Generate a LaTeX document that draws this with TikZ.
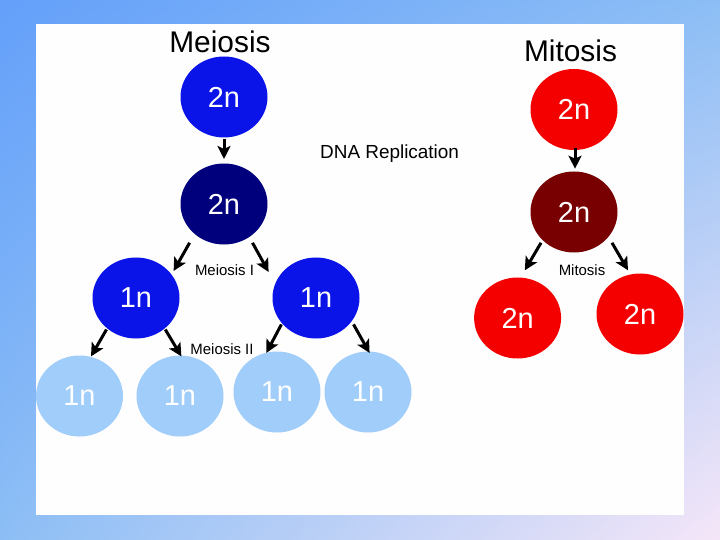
\documentclass[tikz,border=0pt]{standalone}
\usepackage{fontspec}
\setmainfont{Liberation Sans}
\usetikzlibrary{shapes.geometric,arrows.meta,shadings}
\definecolor{bgA}{RGB}{100,160,250}
\definecolor{bgB}{RGB}{140,190,245}
\definecolor{bgC}{RGB}{245,230,248}
\definecolor{cblue}{RGB}{10,20,232}
\definecolor{cnavy}{RGB}{0,0,125}
\definecolor{clight}{RGB}{160,205,250}
\definecolor{cred}{RGB}{245,0,0}
\definecolor{cmaroon}{RGB}{120,0,0}
\tikzset{
  cell/.style={ellipse, minimum width=87bp, minimum height=81bp, inner sep=0pt,
    text=white, font=\fontsize{29}{29}\selectfont},
  arr/.style={line width=3bp, -{Stealth[length=13bp,width=13bp,inset=3bp]}},
  title/.style={font=\fontsize{30}{30}\selectfont, inner sep=0pt},
  small/.style={font=\fontsize{15}{15}\selectfont, inner sep=0pt},
}
\begin{document}
\begin{tikzpicture}[x=1bp,y=-1bp]
\useasboundingbox (0,0) rectangle (720,540);
\shade[upper left=bgA, upper right=bgB, lower left=bgB, lower right=bgC] (0,0) rectangle (720,540);
\fill[white!99!gray] (36,24) rectangle (684,515);
% titles
\node[title] (tmei) at (220,42) {Meiosis};
\node[title] (tmit) at (570.5,51) {Mitosis};
\node[inner sep=0pt, font=\fontsize{19}{19}\selectfont] (dna) at (389.6,154) {DNA Replication};
\node[small] (lmi) at (224.5,270) {Meiosis I};
\node[small] (lmii) at (222,349) {Meiosis II};
\node[small] (lmit) at (582,270) {Mitosis};
% meiosis cells
\node[cell, fill=cblue] (m1) at (224,97) {2n};
\node[cell, fill=cnavy] (m2) at (224,204) {2n};
\node[cell, fill=cblue] (l1) at (136,298) {1n};
\node[cell, fill=cblue] (r1) at (316,298) {1n};
\node[cell, fill=clight] (q1) at (79.5,396) {1n};
\node[cell, fill=clight] (q2) at (180,396) {1n};
\node[cell, fill=clight] (q3) at (277,392) {1n};
\node[cell, fill=clight] (q4) at (368,392) {1n};
% mitosis cells
\node[cell, fill=cred] (t1) at (574,109.5) {2n};
\node[cell, fill=cmaroon] (t2) at (574,212) {2n};
\node[cell, fill=cred] (s1) at (517.6,318) {2n};
\node[cell, fill=cred] (s2) at (640,314) {2n};
% arrows
\draw[arr] ([shift={(0,42.5)}]m1.center) -- ([shift={(0,-45)}]m2.center);
\draw[arr] ([shift={(-34.4,38.8)}]m2.center) -- ([shift={(37.6,-27)}]l1.center);
\draw[arr] ([shift={(28.5,38.8)}]m2.center) -- ([shift={(-47.4,-26)}]r1.center);
\draw[arr] ([shift={(-29.5,31.5)}]l1.center) -- ([shift={(11.5,-39.6)}]q1.center);
\draw[arr] ([shift={(29.3,31.5)}]l1.center) -- ([shift={(1.4,-39.6)}]q2.center);
\draw[arr] ([shift={(-34.6,26.4)}]r1.center) -- ([shift={(-10.7,-39)}]q3.center);
\draw[arr] ([shift={(37.5,26.4)}]r1.center) -- ([shift={(1.6,-39)}]q4.center);
\draw[arr] ([shift={(1,38.5)}]t1.center) -- ([shift={(1,-43.3)}]t2.center);
\draw[arr] ([shift={(-33,30.8)}]t2.center) -- ([shift={(7.2,-47.7)}]s1.center);
\draw[arr] ([shift={(38,30.8)}]t2.center) -- ([shift={(-12,-43.7)}]s2.center);
\end{tikzpicture}
\end{document}
